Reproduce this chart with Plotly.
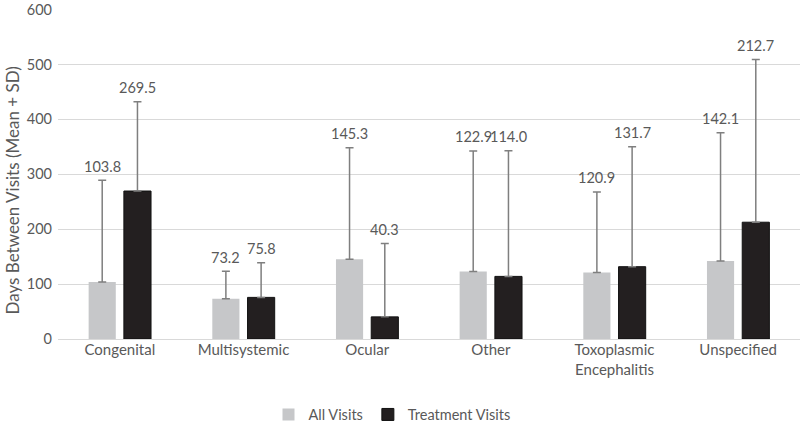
import plotly.graph_objects as go

categories = ["Congenital", "Multisystemic", "Ocular", "Other",
              "Toxoplasmic<br>Encephalitis", "Unspecified"]
all_visits_mean = [103.8, 73.2, 145.3, 122.9, 120.9, 142.1]
all_visits_sd = [185.5, 50.0, 203.0, 219.5, 147.0, 233.5]
treat_visits_mean = [269.5, 75.8, 40.3, 114.0, 131.7, 212.7]
treat_visits_sd = [162.5, 63.0, 133.5, 229.0, 218.5, 296.5]
y_ticks = [0, 100, 200, 300, 400, 500, 600]
y_title = "Days Between Visits (Mean + SD)"

FONT = "Lato, 'Open Sans', sans-serif"
TXT = "#595959"

fig = go.Figure()
fig.add_trace(go.Bar(
    name="All Visits", x=categories, y=all_visits_mean,
    marker=dict(color="#c6c7c9", line=dict(color="#c6c7c9", width=0)),
    error_y=dict(type="data", array=all_visits_sd, symmetric=False,
                 arrayminus=[0] * len(all_visits_sd),
                 color="#7f7f7f", thickness=1.5, width=4),
))
fig.add_trace(go.Bar(
    name="Treatment Visits", x=categories, y=treat_visits_mean,
    marker=dict(color="#231f20", line=dict(color="#111111", width=1)),
    error_y=dict(type="data", array=treat_visits_sd, symmetric=False,
                 arrayminus=[0] * len(treat_visits_sd),
                 color="#7f7f7f", thickness=1.5, width=4),
))

# value labels above the error bars
slot_px = 17.6
for means, sds, shift in [(all_visits_mean, all_visits_sd, -slot_px),
                          (treat_visits_mean, treat_visits_sd, slot_px)]:
    for c, m, s in zip(categories, means, sds):
        fig.add_annotation(x=c, y=m + s, text=f"{m:.1f}", showarrow=False,
                           xshift=shift, yshift=14,
                           font=dict(family=FONT, size=14.5, color=TXT))

# y-axis title
fig.add_annotation(text=y_title, textangle=-90, showarrow=False,
                   xref="paper", yref="paper", x=0, y=0.45,
                   xanchor="center", yanchor="middle", xshift=-46,
                   font=dict(family=FONT, size=17, color=TXT))

fig.update_layout(
    width=800, height=423,
    margin=dict(l=58, r=0, t=9, b=84, autoexpand=False),
    paper_bgcolor="white", plot_bgcolor="white",
    barmode="group", bargap=0.43, bargroupgap=0.23,
    font=dict(family=FONT, size=15, color=TXT),
    showlegend=True,
    legend=dict(orientation="h", xref="container", x=0.49, xanchor="center",
                yref="container", y=0.02, yanchor="middle",
                font=dict(family=FONT, size=14.5, color=TXT),
                itemwidth=30, traceorder="normal"),
    yaxis=dict(range=[0, 601], tickvals=y_ticks, showgrid=True,
               gridcolor="#d9d9d9", gridwidth=1, zeroline=True,
               zerolinecolor="#d9d9d9", zerolinewidth=1,
               ticks="", ticklabelstandoff=5, automargin=False,
               ticklabeloverflow="allow",
               tickfont=dict(family=FONT, size=14.5, color=TXT)),
    xaxis=dict(showline=False, ticks="", automargin=False,
               tickfont=dict(family=FONT, size=15, color=TXT)),
)

fig.write_html("out.html", config={"displayModeBar": False},
               post_script="document.body.style.margin='0';")
